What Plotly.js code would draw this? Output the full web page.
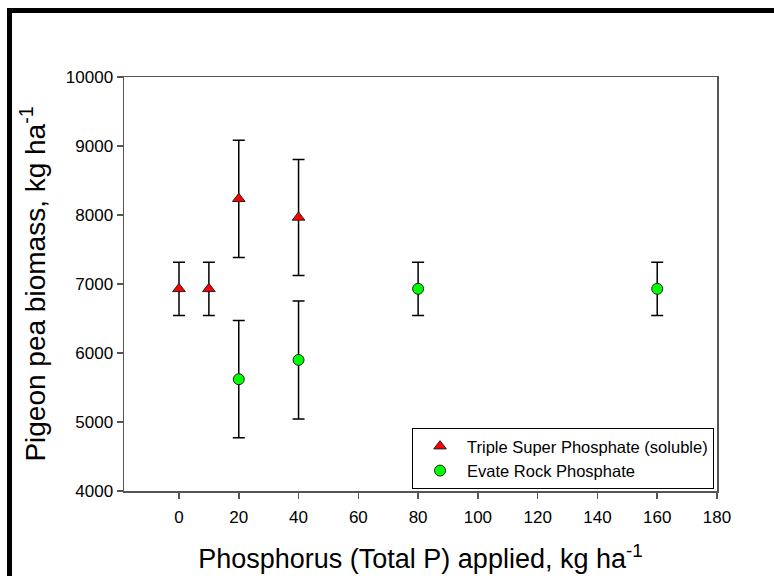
<!DOCTYPE html>
<html>
<head>
<meta charset="utf-8">
<script src="https://cdn.plot.ly/plotly-3.0.1.min.js"></script>
<style>
  html, body { margin: 0; padding: 0; overflow: hidden; background: #fff; }
  #chart { width: 774px; height: 576px; }
  #frame { position: absolute; left: 7px; top: 8px; width: 900px; height: 700px;
           border-top: 5px solid #000; border-left: 5px solid #000; pointer-events: none; }
</style>
</head>
<body>
<div id="chart"></div>
<div id="frame"></div>
<script>
// Triple Super Phosphate (soluble)
var tspX = [0, 10, 20, 40];
var tspY = [6930, 6930, 8235, 7965];
var tspErr = [385, 385, 850, 840];

// Evate Rock Phosphate
var erpX = [20, 40, 80, 160];
var erpY = [5620, 5900, 6930, 6930];
var erpErr = [850, 855, 385, 385];

var xTicks = [0, 20, 40, 60, 80, 100, 120, 140, 160, 180];
var yTicks = [4000, 5000, 6000, 7000, 8000, 9000, 10000];

var FONT = 'Arial, "Liberation Sans", sans-serif';

var traces = [
  {
    x: tspX, y: tspY, type: 'scatter', mode: 'markers',
    name: 'Triple Super Phosphate (soluble)',
    marker: { symbol: 'triangle-up', size: 11, color: '#ff0000', line: { color: '#222', width: 1 } },
    error_y: { type: 'data', array: tspErr, visible: true, color: '#000', thickness: 1.5, width: 6 }
  },
  {
    x: erpX, y: erpY, type: 'scatter', mode: 'markers',
    name: 'Evate Rock Phosphate',
    marker: { symbol: 'circle', size: 11, color: '#00ff00', line: { color: '#222', width: 1 } },
    error_y: { type: 'data', array: erpErr, visible: true, color: '#000', thickness: 1.5, width: 6 }
  }
];

var layout = {
  width: 774, height: 576,
  margin: { l: 124, r: 57, t: 77, b: 85 },
  paper_bgcolor: '#fff', plot_bgcolor: '#fff',
  font: { family: FONT, size: 17, color: '#000' },
  showlegend: true,
  legend: {
    x: 0.995, xanchor: 'right', y: 0.005, yanchor: 'bottom',
    bgcolor: '#fff', bordercolor: '#000', borderwidth: 1,
    font: { family: FONT, size: 16.5, color: '#000' },
    itemwidth: 44
  },
  xaxis: {
    range: [-18.4, 180], tickvals: xTicks, ticktext: xTicks.map(String),
    showgrid: false, zeroline: false,
    showline: true, linecolor: '#555', linewidth: 1.5, mirror: true,
    ticks: 'outside', ticklen: 6, tickwidth: 1.5, tickcolor: '#555',
    ticklabelstandoff: 4,
    tickfont: { family: FONT, size: 17, color: '#000' },
    title: { text: 'Phosphorus (Total P) applied, kg ha<sup>-1</sup>', font: { family: FONT, size: 27, color: '#000' }, standoff: 23 }
  },
  yaxis: {
    range: [4000, 10000], tickvals: yTicks, ticktext: yTicks.map(String),
    showgrid: false, zeroline: false,
    showline: true, linecolor: '#555', linewidth: 1.5, mirror: true,
    ticks: 'outside', ticklen: 6, tickwidth: 1.5, tickcolor: '#555',
    tickfont: { family: FONT, size: 17, color: '#000' },
    title: { text: 'Pigeon pea biomass, kg ha<sup>-1</sup>', font: { family: FONT, size: 28, color: '#000' }, standoff: 12 }
  }
};

Plotly.newPlot('chart', traces, layout, { displayModeBar: false, staticPlot: true });
</script>
</body>
</html>
